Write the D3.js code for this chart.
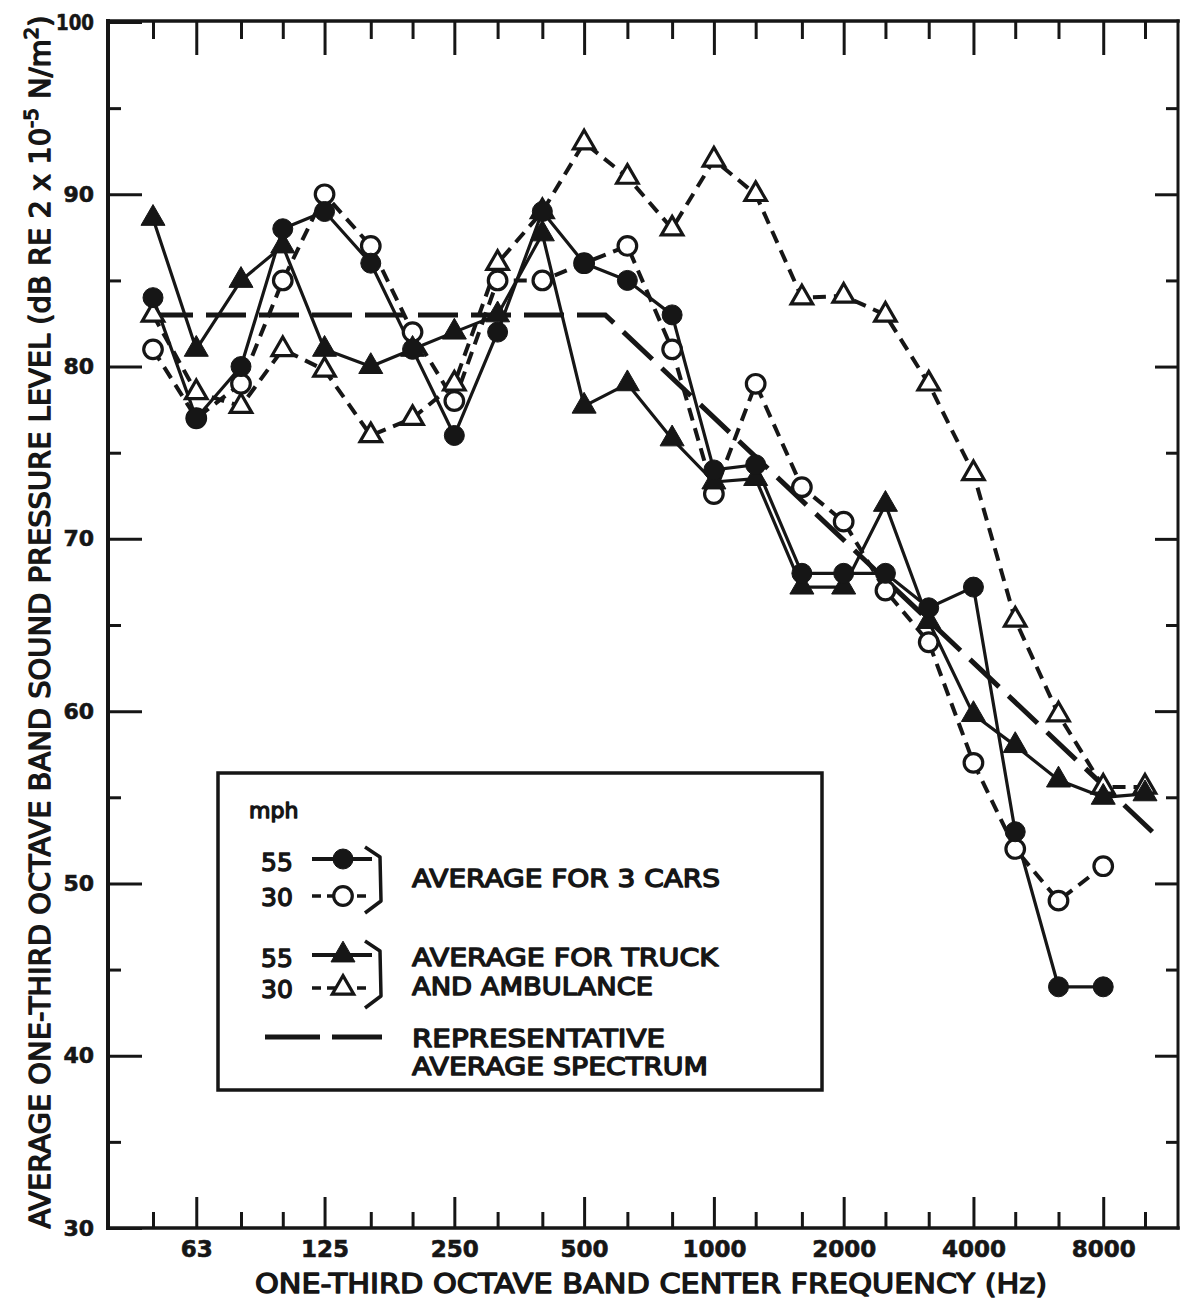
<!DOCTYPE html>
<html>
<head>
<meta charset="utf-8">
<script src="https://cdn.jsdelivr.net/npm/d3@7"></script>
<style>
  html, body { margin: 0; padding: 0; background: #fff; }
  svg { display: block; }
</style>
</head>
<body>
<svg id="chart" width="1182" height="1299"></svg>
<script>
// One-third octave band centre frequencies (Hz)
const bands = [50, 63, 80, 100, 125, 160, 200, 250, 315, 400, 500, 630, 800, 1000,
               1250, 1600, 2000, 2500, 3150, 4000, 5000, 6300, 8000, 10000];
const labeledBands = [63, 125, 250, 500, 1000, 2000, 4000, 8000];
const yMajorTicks = [30, 40, 50, 60, 70, 80, 90, 100];
const yMinorTicks = [35, 45, 55, 65, 75, 85, 95];

// Average for 3 cars (dB), bands 50 Hz .. 8000 Hz
const cars55 = [84, 77, 80, 88, 89, 86, 81, 76, 82, 89, 86, 85, 83, 74, 74.3,
                68, 68, 68, 66, 67.2, 53, 44, 44];
const cars30 = [81, 77, 79, 85, 90, 87, 82, 78, 85, 85, 86, 87, 81, 72.6, 79,
                73, 71, 67, 64, 57, 52, 49, 51];
// Average for truck and ambulance (dB), bands 50 Hz .. 10000 Hz
const truck55 = [88.6, 81, 85, 87, 81, 80, 81, 82, 83, 87.7, 77.7, 79, 75.8, 73.3, 73.5,
                 67.2, 67.2, 72, 65.2, 59.8, 58, 56, 55, 55.2];
const truck30 = [83, 78.5, 77.7, 81, 79.8, 76, 77, 79, 86, 89, 93, 91, 88, 92, 90,
                 84, 84.1, 83, 79, 73.8, 65.3, 59.8, 55.6, 55.6];
// Representative average spectrum: flat, then a straight roll-off
const repFreq = [50, 560, 10400];
const repLevel = [83, 83, 53];

const ink = "#161616";
const svg = d3.select("#chart");

const x = d3.scaleLog().domain([50, 10000]).range([153, 1145]);
const y = d3.scaleLinear().domain([30, 100]).range([1228, 22]);

const frame = { left: 108, right: 1178, top: 21, bottom: 1228 };

// ---- ticks (all pointing into the plot) ----
function styleAxis(g) {
  g.select(".domain").remove();
  g.selectAll(".tick line").attr("stroke", ink).attr("stroke-width", 3);
}
const boldNumbers = (g, size) => g.selectAll("text").attr("fill", ink)
  .attr("font-family", "DejaVu Sans").attr("font-weight", "bold").attr("font-size", size)
  .attr("stroke", ink).attr("stroke-width", 0.6);
const shortBands = bands.filter(b => !labeledBands.includes(b));

// bottom
svg.append("g").attr("transform", `translate(0,${frame.bottom})`)
  .call(d3.axisBottom(x).tickValues(labeledBands).tickSize(-31).tickPadding(13).tickFormat(d3.format("d")))
  .call(styleAxis)
  .call(g => boldNumbers(g, 23));
svg.append("g").attr("transform", `translate(0,${frame.bottom})`)
  .call(d3.axisBottom(x).tickValues(shortBands).tickSize(-16).tickFormat(""))
  .call(styleAxis);
// top
svg.append("g").attr("transform", `translate(0,${frame.top})`)
  .call(d3.axisTop(x).tickValues(labeledBands).tickSize(-34).tickFormat(""))
  .call(styleAxis);
svg.append("g").attr("transform", `translate(0,${frame.top})`)
  .call(d3.axisTop(x).tickValues(shortBands).tickSize(-18).tickFormat(""))
  .call(styleAxis);
// left
svg.append("g").attr("transform", `translate(${frame.left},0)`)
  .call(d3.axisLeft(y).tickValues(yMajorTicks).tickSize(-34).tickPadding(14).tickFormat(d3.format("d")))
  .call(styleAxis)
  .call(g => boldNumbers(g, 22))
  .call(g => g.selectAll("text").filter(d => d >= 100)
    .attr("textLength", 38).attr("lengthAdjust", "spacingAndGlyphs"));
svg.append("g").attr("transform", `translate(${frame.left},0)`)
  .call(d3.axisLeft(y).tickValues(yMinorTicks).tickSize(-13).tickFormat(""))
  .call(styleAxis);
// right
svg.append("g").attr("transform", `translate(${frame.right},0)`)
  .call(d3.axisRight(y).tickValues(yMajorTicks.filter(v => v > 30 && v < 100)).tickSize(-23).tickFormat(""))
  .call(styleAxis);
svg.append("g").attr("transform", `translate(${frame.right},0)`)
  .call(d3.axisRight(y).tickValues(yMinorTicks).tickSize(-12).tickFormat(""))
  .call(styleAxis);

// ---- frame ----
const fr = svg.append("g").attr("stroke", ink).attr("fill", "none").attr("stroke-linecap", "square");
fr.append("line").attr("x1", frame.left).attr("x2", frame.left).attr("y1", frame.top).attr("y2", frame.bottom).attr("stroke-width", 4);
fr.append("line").attr("x1", frame.left).attr("x2", frame.right).attr("y1", frame.bottom).attr("y2", frame.bottom).attr("stroke-width", 3.5);
fr.append("line").attr("x1", frame.left).attr("x2", frame.right).attr("y1", frame.top).attr("y2", frame.top).attr("stroke-width", 3.5);
fr.append("line").attr("x1", frame.right).attr("x2", frame.right).attr("y1", frame.top).attr("y2", frame.bottom).attr("stroke-width", 3);

// ---- series ----
const line = d3.line().x(d => x(d[0])).y(d => y(d[1]));
const pairs = vals => vals.map((v, i) => [bands[i], v]);

const series = [
  { data: pairs(truck30), dash: "13,8", width: 4,   marker: "triangle", filled: false },
  { data: pairs(cars30),  dash: "13,8", width: 4,   marker: "circle",   filled: false },
  { data: pairs(truck55), dash: null,   width: 3.2, marker: "triangle", filled: true },
  { data: pairs(cars55),  dash: null,   width: 3.2, marker: "circle",   filled: true }
];

// representative spectrum
svg.append("path")
  .datum(repFreq.map((f, i) => [f, repLevel[i]]))
  .attr("d", line)
  .attr("fill", "none").attr("stroke", ink).attr("stroke-width", 5)
  .attr("stroke-dasharray", "40,13");

series.forEach(s => {
  svg.append("path").datum(s.data).attr("d", line)
    .attr("fill", "none").attr("stroke", ink).attr("stroke-width", s.width)
    .attr("stroke-linejoin", "round")
    .attr("stroke-dasharray", s.dash);
});

function drawMarker(g, kind, filled, px, py) {
  if (kind === "circle") {
    g.append("circle").attr("cx", px).attr("cy", py)
      .attr("r", filled ? 10 : 9.3)
      .attr("fill", filled ? ink : "#fff")
      .attr("stroke", ink).attr("stroke-width", filled ? 1 : 3.2);
  } else {
    g.append("path").attr("transform", `translate(${px},${py})`)
      .attr("d", d3.symbol().type(d3.symbolTriangle).size(filled ? 250 : 200)())
      .attr("fill", filled ? ink : "#fff")
      .attr("stroke", ink).attr("stroke-width", filled ? 1 : 3.2)
      .attr("stroke-linejoin", "miter");
  }
}

const markerLayer = svg.append("g");
series.forEach(s => {
  s.data.forEach(d => drawMarker(markerLayer, s.marker, s.filled, x(d[0]), y(d[1])));
});

// ---- axis titles ----
const titleFont = sel => sel.attr("font-family", "DejaVu Sans")
  .attr("fill", ink).attr("stroke", ink).attr("stroke-width", 1.4)
  .attr("stroke-linejoin", "round");

svg.append("text")
  .attr("x", 651).attr("y", 1293)
  .attr("text-anchor", "middle").attr("font-size", 27)
  .call(titleFont)
  .attr("textLength", 792).attr("lengthAdjust", "spacingAndGlyphs")
  .text("ONE-THIRD OCTAVE BAND CENTER FREQUENCY (Hz)");

const yTitleG = svg.append("g");
const yTitle = yTitleG.append("text")
  .attr("text-anchor", "middle").attr("font-size", 29)
  .call(titleFont);
yTitle.append("tspan").text("AVERAGE ONE-THIRD OCTAVE BAND SOUND PRESSURE LEVEL (dB RE 2 x 10");
yTitle.append("tspan").attr("dy", -12).attr("font-size", 20).text("-5");
yTitle.append("tspan").attr("dy", 12).text(" N/m");
yTitle.append("tspan").attr("dy", -12).attr("font-size", 20).text("2");
yTitle.append("tspan").attr("dy", 12).text(")");
const yTitleLen = yTitle.node().getComputedTextLength();
yTitleG.attr("transform", `translate(50,622) rotate(-90) scale(${1214 / yTitleLen},1)`);

// ---- legend ----
const legend = svg.append("g");
legend.append("rect").attr("x", 218).attr("y", 773).attr("width", 604).attr("height", 317)
  .attr("fill", "#fff").attr("stroke", ink).attr("stroke-width", 3.5);

legend.append("text").attr("x", 249).attr("y", 818).attr("font-size", 22)
  .call(titleFont).text("mph");

const legendRows = [
  { speed: "55", base: 871, ly: 859, marker: "circle",   filled: true,  dash: null },
  { speed: "30", base: 906, ly: 896, marker: "circle",   filled: false, dash: "9,6" },
  { speed: "55", base: 967, ly: 955, marker: "triangle", filled: true,  dash: null },
  { speed: "30", base: 998, ly: 988, marker: "triangle", filled: false, dash: "9,6" }
];
legendRows.forEach(r => {
  legend.append("text").attr("x", 261).attr("y", r.base).attr("font-size", 25)
    .call(titleFont).text(r.speed);
  legend.append("line").attr("x1", 312).attr("x2", 372).attr("y1", r.ly).attr("y2", r.ly)
    .attr("stroke", ink).attr("stroke-width", r.filled ? 4 : 3.5)
    .attr("stroke-dasharray", r.dash);
  drawMarker(legend, r.marker, r.filled, 343, r.ly);
});

// group brackets
[[847, 913], [941, 1008]].forEach(([t, b]) => {
  legend.append("path")
    .attr("d", `M365,${t} L380,${t + 10} L381,${b - 12} L365,${b}`)
    .attr("fill", "none").attr("stroke", ink).attr("stroke-width", 3.5)
    .attr("stroke-linejoin", "round");
});

// representative spectrum sample
legend.append("line").attr("x1", 265).attr("x2", 382).attr("y1", 1037).attr("y2", 1037)
  .attr("stroke", ink).attr("stroke-width", 5).attr("stroke-dasharray", "55,12");

const legendLabels = [
  { text: "AVERAGE FOR 3 CARS", base: 887, len: 308 },
  { text: "AVERAGE FOR TRUCK",  base: 966, len: 306 },
  { text: "AND AMBULANCE",      base: 995, len: 241 },
  { text: "REPRESENTATIVE",     base: 1047, len: 253 },
  { text: "AVERAGE SPECTRUM",   base: 1075, len: 296 }
];
legendLabels.forEach(l => {
  legend.append("text").attr("x", 412).attr("y", l.base).attr("font-size", 25)
    .call(titleFont)
    .attr("textLength", l.len).attr("lengthAdjust", "spacingAndGlyphs")
    .text(l.text);
});
</script>
</body>
</html>
